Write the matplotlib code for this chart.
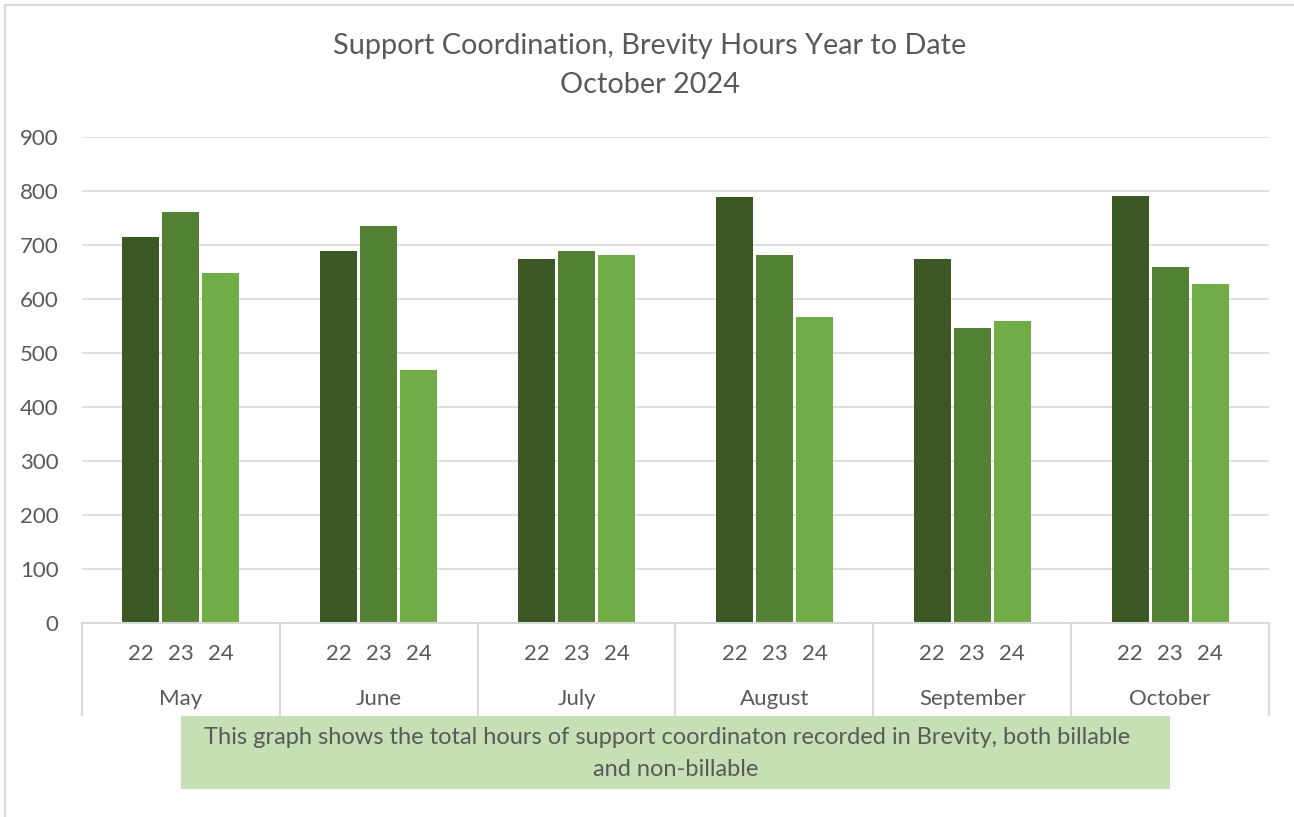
import matplotlib
matplotlib.use("Agg")
import matplotlib.pyplot as plt
import numpy as np

months = ["May", "June", "July", "August", "September", "October"]
year_labels = ["22", "23", "24"]
hours_22 = [714, 688, 674, 788, 674, 790]
hours_23 = [762, 736, 688, 681, 546, 659]
hours_24 = [648, 468, 681, 566, 559, 627]
yticks = [0, 100, 200, 300, 400, 500, 600, 700, 800, 900]

colors = ["#3A5724", "#548235", "#70AD47"]
text_color = "#595959"
grid_color = "#D9D9D9"
font = ["Lato", "DejaVu Sans"]
plt.rcParams["font.family"] = font

W, H = 1294, 817
fig = plt.figure(figsize=(W / 100, H / 100), dpi=100)

# outer border lines (left and top)
fig.add_artist(plt.Line2D([5 / W, 5 / W], [0, 1 - 5 / H], color=grid_color, lw=1.5))
fig.add_artist(plt.Line2D([5 / W, 1], [1 - 5 / H, 1 - 5 / H], color=grid_color, lw=1.5))

left, right = 82 / W, 1269 / W
bottom, top = 1 - 623 / H, 1 - 137 / H
ax = fig.add_axes([left, bottom, right - left, top - bottom])

x = np.arange(len(months))
step = 0.202
width = 0.187
series = [hours_22, hours_23, hours_24]
for i, vals in enumerate(series):
    ax.bar(x + (i - 1) * step, vals, width=width, color=colors[i], zorder=3)

ax.set_xlim(-0.5, len(months) - 0.5)
ax.set_ylim(0, 900)
ax.set_yticks(yticks)
ax.set_yticklabels([str(v) for v in yticks], fontsize=16, color=text_color)
ax.tick_params(axis="y", length=0, pad=17)
ax.grid(axis="y", color=grid_color, lw=1.2, zorder=0)
ax.set_xticks([])
for s in ["top", "right", "left"]:
    ax.spines[s].set_visible(False)
ax.spines["bottom"].set_color(grid_color)
ax.spines["bottom"].set_linewidth(1.5)
ax.spines["bottom"].set_zorder(4)

trans = ax.get_xaxis_transform()
ax_h_px = 623 - 137
def yax(ypix):
    return (623 - ypix) / ax_h_px

# category dividers
for b in np.arange(len(months) + 1) - 0.5:
    ax.plot([b, b], [0, yax(715)], transform=trans, color=grid_color, lw=1.5, clip_on=False)

# tick labels
for j, m in enumerate(months):
    for i, yl in enumerate(year_labels):
        ax.text(j + (i - 1) * step, yax(654), yl, transform=trans, ha="center", va="center",
                fontsize=16, color=text_color)
    ax.text(j, yax(699), m, transform=trans, ha="center", va="center", fontsize=16, color=text_color)

# title
fig.text(650 / W, 1 - 46 / H, "Support Coordination, Brevity Hours Year to Date",
         ha="center", va="center", fontsize=20.8, color=text_color)
fig.text(650 / W, 1 - 85 / H, "October 2024",
         ha="center", va="center", fontsize=20.8, color=text_color)

# note box
bx0, bx1 = 181 / W, 1170 / W
by0, by1 = 1 - 789 / H, 1 - 716 / H
fig.add_artist(plt.Rectangle((bx0, by0), bx1 - bx0, by1 - by0, transform=fig.transFigure,
                             facecolor="#C5E0B4", edgecolor="none"))
fig.text((bx0 + bx1) / 2 - 8 / W, 1 - 738 / H,
         "This graph shows the total hours of support coordinaton recorded in Brevity, both billable",
         ha="center", va="center", fontsize=17, color=text_color)
fig.text((bx0 + bx1) / 2, 1 - 769 / H, "and non-billable",
         ha="center", va="center", fontsize=17, color=text_color)

fig.savefig("out.png", dpi=100, facecolor="white")
